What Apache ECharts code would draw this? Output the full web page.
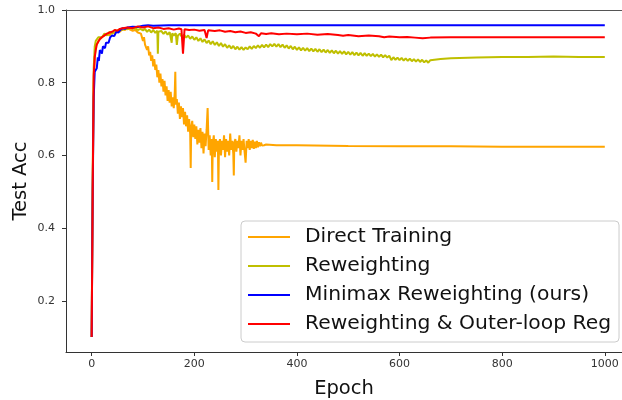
<!DOCTYPE html>
<html>
<head>
<meta charset="utf-8">
<script src="https://cdn.jsdelivr.net/npm/echarts@6/dist/echarts.min.js"></script>
<style>
  html, body { margin: 0; padding: 0; background: #fff; }
  #chart { width: 622px; height: 400px; }
</style>
</head>
<body>
<div id="chart"></div>
<script>
// tick labels
var xTicks = [0, 200, 400, 600, 800, 1000];
var yTicks = [0.2, 0.4, 0.6, 0.8, 1.0];

var seriesNames = ['Direct Training', 'Reweighting', 'Minimax Reweighting (ours)', 'Reweighting & Outer-loop Reg'];

// Direct Training
var directEpochs = [0,2,4,6,8,10,13,16,20,25,30,35,40,45,50,55,60,65,70,75,80,85,90,93,96,98,100,102,104,106,108,110,112,114,116,118,120,122,124,126,128,130,132,134,136,138,140,142,144,146,148,150,152,154,156,158,160,162,163,164,166,168,170,172,174,176,178,180,182,184,186,188,190,192,193,194,196,198,200,202,204,206,208,210,212,214,216,218,220,222,224,226,228,230,232,234,235,236,238,240,242,244,246,247,248,250,252,254,256,258,260,262,264,266,268,270,272,274,276,277,278,280,282,284,286,288,290,292,294,296,298,300,302,304,306,308,310,312,314,316,318,320,322,324,326,328,330,332,334,336,340,360,400,500,600,700,800,900,1000];
var directAcc = [0.10,0.50,0.80,0.87,0.90,0.905,0.915,0.92,0.925,0.93,0.935,0.93,0.94,0.935,0.945,0.94,0.948,0.945,0.95,0.946,0.943,0.945,0.938,0.94,0.935,0.93,0.915,0.925,0.905,0.91,0.89,0.90,0.875,0.885,0.86,0.875,0.845,0.865,0.835,0.85,0.815,0.835,0.80,0.825,0.79,0.81,0.775,0.805,0.765,0.79,0.75,0.78,0.745,0.775,0.735,0.76,0.73,0.775,0.83,0.74,0.755,0.715,0.745,0.70,0.735,0.705,0.73,0.685,0.72,0.68,0.71,0.665,0.70,0.66,0.565,0.675,0.695,0.65,0.685,0.645,0.68,0.63,0.67,0.635,0.675,0.62,0.665,0.605,0.66,0.625,0.67,0.73,0.615,0.655,0.60,0.645,0.527,0.63,0.655,0.595,0.645,0.61,0.64,0.505,0.62,0.645,0.60,0.64,0.615,0.655,0.595,0.645,0.61,0.64,0.60,0.66,0.615,0.64,0.605,0.545,0.635,0.645,0.61,0.64,0.62,0.655,0.60,0.64,0.615,0.645,0.61,0.58,0.64,0.62,0.645,0.615,0.64,0.62,0.643,0.618,0.638,0.62,0.64,0.622,0.636,0.625,0.635,0.627,0.632,0.628,0.63,0.628,0.628,0.626,0.625,0.625,0.624,0.624,0.624];

// Reweighting
var reweightEpochs = [0,2,4,6,8,10,13,16,20,25,30,35,40,45,50,55,60,65,70,75,80,85,90,95,100,104,108,112,116,120,124,128,129,130,132,136,140,144,148,152,156,157,160,164,166,168,172,176,180,184,188,192,196,200,204,208,212,216,220,224,228,232,236,240,244,248,252,256,260,264,268,272,276,280,284,288,292,296,300,304,308,312,316,320,324,328,332,336,340,344,348,352,356,360,364,368,372,376,380,384,388,392,396,400,404,408,412,416,420,424,428,432,436,440,444,448,452,456,460,464,468,472,476,480,484,488,492,496,500,504,508,512,516,520,524,528,532,536,540,544,548,552,556,560,564,568,572,576,580,584,588,592,596,600,604,608,612,616,620,624,628,632,636,640,644,648,652,656,660,680,700,750,800,850,900,950,1000];
var reweightAcc = [0.10,0.55,0.84,0.90,0.915,0.92,0.925,0.93,0.925,0.935,0.93,0.94,0.935,0.945,0.94,0.948,0.945,0.95,0.947,0.952,0.948,0.95,0.945,0.948,0.944,0.948,0.940,0.946,0.938,0.945,0.937,0.943,0.88,0.94,0.936,0.942,0.934,0.941,0.932,0.939,0.91,0.936,0.93,0.936,0.904,0.93,0.935,0.926,0.932,0.924,0.93,0.921,0.927,0.918,0.925,0.915,0.922,0.912,0.919,0.909,0.916,0.906,0.914,0.904,0.911,0.901,0.909,0.899,0.906,0.896,0.903,0.894,0.901,0.892,0.899,0.891,0.898,0.89,0.897,0.892,0.90,0.893,0.901,0.895,0.903,0.896,0.904,0.897,0.905,0.898,0.906,0.90,0.907,0.899,0.906,0.898,0.905,0.896,0.903,0.894,0.901,0.892,0.899,0.89,0.897,0.889,0.896,0.888,0.895,0.887,0.894,0.886,0.893,0.885,0.892,0.884,0.891,0.883,0.89,0.882,0.889,0.881,0.888,0.88,0.887,0.879,0.886,0.878,0.885,0.877,0.884,0.876,0.883,0.875,0.882,0.874,0.881,0.874,0.88,0.873,0.879,0.872,0.878,0.871,0.877,0.87,0.876,0.869,0.874,0.862,0.87,0.863,0.869,0.862,0.868,0.861,0.867,0.86,0.866,0.859,0.865,0.858,0.864,0.857,0.863,0.856,0.861,0.855,0.862,0.865,0.867,0.869,0.871,0.871,0.872,0.871,0.871];

// Minimax Reweighting (ours)
var minimaxEpochs = [0,2,4,6,8,10,12,14,16,18,20,22,24,26,28,30,33,36,40,44,48,52,56,60,65,70,80,90,100,110,120,150,200,400,600,800,1000];
var minimaxAcc = [0.10,0.50,0.76,0.83,0.83,0.84,0.87,0.86,0.89,0.885,0.88,0.90,0.905,0.895,0.91,0.915,0.91,0.925,0.93,0.928,0.94,0.938,0.945,0.95,0.948,0.952,0.954,0.953,0.957,0.958,0.957,0.958,0.958,0.958,0.958,0.958,0.958];

// Reweighting & Outer-loop Reg
var outerEpochs = [0,2,4,6,8,10,13,16,20,25,30,35,40,45,50,55,60,70,80,90,100,110,120,130,140,150,160,170,175,178,181,190,200,210,220,224,227,240,250,260,270,280,290,300,310,320,326,330,340,350,365,380,400,420,440,460,480,490,500,520,540,560,570,580,600,615,630,645,660,700,800,900,1000];
var outerAcc = [0.10,0.50,0.82,0.87,0.89,0.905,0.91,0.92,0.925,0.93,0.935,0.938,0.94,0.945,0.943,0.948,0.95,0.952,0.95,0.955,0.952,0.955,0.95,0.952,0.948,0.95,0.946,0.949,0.947,0.88,0.947,0.945,0.946,0.943,0.945,0.923,0.944,0.942,0.944,0.94,0.942,0.939,0.941,0.937,0.939,0.935,0.928,0.936,0.934,0.936,0.933,0.935,0.933,0.935,0.932,0.934,0.931,0.929,0.931,0.928,0.93,0.928,0.925,0.927,0.925,0.926,0.924,0.922,0.924,0.925,0.925,0.925,0.925];

function pairs(xs, ys) {
  return xs.map(function (x, i) { return [x, ys[i]]; });
}

var myChart = echarts.init(document.getElementById('chart'));
var font = 'DejaVu Sans';
var option = {
  animation: false,
  backgroundColor: '#fff',
  textStyle: { fontFamily: font },
  grid: { left: 66, right: 0, top: 10, bottom: 48, outerBoundsMode: 'none' },
  legend: {
    orient: 'vertical',
    left: 241,
    top: 221,
    padding: [6, 8, 8, 7],
    itemGap: 9,
    itemWidth: 42,
    itemHeight: 2,
    icon: 'rect',
    borderColor: '#cccccc',
    borderWidth: 1,
    borderRadius: 4,
    backgroundColor: 'rgba(255,255,255,0.8)',
    data: seriesNames,
    textStyle: {
      fontFamily: font,
      fontSize: 20.3,
      lineHeight: 20,
      color: '#111',
      padding: [0, 0, 0, 10]
    }
  },
  xAxis: [{
    type: 'value',
    min: -50,
    max: 1033.5,
    name: 'Epoch',
    nameLocation: 'middle',
    nameGap: 27,
    nameMoveOverlap: false,
    nameTextStyle: { fontFamily: font, fontSize: 19.5, color: '#111' },
    splitLine: { show: false },
    axisLine: { onZero: false, lineStyle: { color: '#333', width: 1 } },
    axisTick: { length: 4, lineStyle: { color: '#333' }, customValues: xTicks },
    axisLabel: {
      fontSize: 11, color: '#333', margin: 7, customValues: xTicks,
      formatter: function (v) { return String(v); }
    }
  }, {
    type: 'value',
    position: 'top',
    min: -50,
    max: 1033.5,
    splitLine: { show: false },
    axisLine: { show: true, onZero: false, lineStyle: { color: '#555', width: 1 } },
    axisTick: { show: false },
    axisLabel: { show: false }
  }],
  yAxis: {
    type: 'value',
    min: 0.059,
    max: 1.0,
    name: 'Test Acc',
    nameLocation: 'middle',
    nameGap: 35,
    nameMoveOverlap: false,
    nameTextStyle: { fontFamily: font, fontSize: 19.5, color: '#111' },
    splitLine: { show: false },
    axisLine: { show: true, onZero: false, lineStyle: { color: '#333', width: 1 } },
    axisTick: { show: true, length: 4, lineStyle: { color: '#333' }, customValues: yTicks },
    axisLabel: {
      fontSize: 11, color: '#333', margin: 11, customValues: yTicks,
      formatter: function (v) { return v.toFixed(1); }
    }
  },
  series: [{
    name: seriesNames[0],
    type: 'line',
    showSymbol: false,
    data: pairs(directEpochs, directAcc),
    color: '#ffa500',
    lineStyle: { width: 2 }
  }, {
    name: seriesNames[1],
    type: 'line',
    showSymbol: false,
    data: pairs(reweightEpochs, reweightAcc),
    color: '#bfbf00',
    lineStyle: { width: 2 }
  }, {
    name: seriesNames[2],
    type: 'line',
    showSymbol: false,
    data: pairs(minimaxEpochs, minimaxAcc),
    color: '#0000ff',
    lineStyle: { width: 2 }
  }, {
    name: seriesNames[3],
    type: 'line',
    showSymbol: false,
    data: pairs(outerEpochs, outerAcc),
    color: '#ff0000',
    lineStyle: { width: 2 }
  }]
};
myChart.setOption(option);
</script>
</body>
</html>
